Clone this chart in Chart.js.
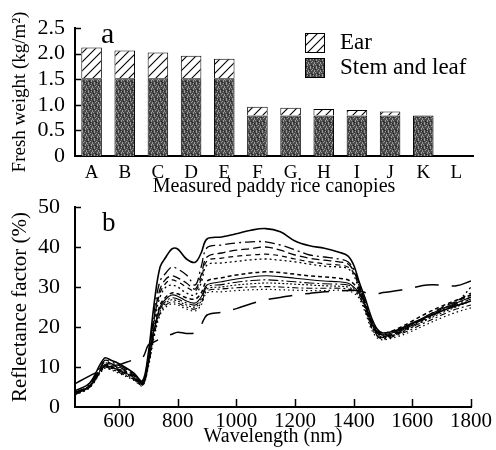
<!DOCTYPE html>
<html lang="en">
<head>
<meta charset="UTF-8">
<title>Paddy rice canopies: fresh weight and reflectance</title>
<style>
  html, body { margin: 0; padding: 0; background: #fff; }
  #wrap { position: relative; width: 496px; height: 450px; }
  canvas { position: absolute; left: 0; }
  #bars { top: 0; }
  #spectra { top: 190px; }
</style>
</head>
<body>
<div id="wrap">
  <canvas id="bars" width="496" height="202"></canvas>
  <canvas id="spectra" width="496" height="260"></canvas>
</div>

<script src="https://cdn.jsdelivr.net/npm/chart.js"></script>
<script>
// ---- panel a: fresh weight ----
const canopies = ['A', 'B', 'C', 'D', 'E', 'F', 'G', 'H', 'I', 'J', 'K', 'L'];
const stemLeaf = [1.52, 1.52, 1.52, 1.52, 1.52, 0.79, 0.79, 0.79, 0.79, 0.79, 0.79, 0];
const ear      = [0.60, 0.54, 0.50, 0.44, 0.38, 0.17, 0.15, 0.13, 0.11, 0.08, 0, 0];
const weightTicks = [0, 0.5, 1.0, 1.5, 2.0, 2.5];

// ---- panel b: reflectance spectra ----
const wavelength = [450, 500, 550, 575, 600, 650, 680, 700, 720, 740, 760, 780, 800, 830, 860, 880, 900,
  950, 1000, 1050, 1100, 1150, 1200, 1250, 1300, 1350, 1380, 1400, 1420, 1440, 1460, 1480, 1500,
  1550, 1600, 1650, 1700, 1750, 1800];
const waveTicks = [600, 800, 1000, 1200, 1400, 1600, 1800];
const reflTicks = [0, 10, 20, 30, 40, 50];

const reflA = [4.0, 6.0, 12.2, 11.6, 10.8, 8.5, 6.5, 13.5, 26, 35, 37.5, 39.5, 39.5, 37, 36.2, 38.5, 42,
  42.5, 43.3, 44.2, 44.6, 43.8, 41.5, 40.3, 39.7, 38.7, 37.8, 35.5, 31, 27, 22.5, 19.5, 18.5,
  19.3, 21, 22.5, 24, 25.3, 26.5];
const reflB = [3.6, 5.6, 11.6, 11.2, 10.4, 8.3, 6.3, 12.8, 24, 31.5, 33.5, 35, 34.5, 33, 30.5, 35, 39.8,
  40.5, 41, 41.3, 41.3, 40.5, 39.3, 38, 37.5, 37, 36.3, 34.5, 30.5, 26, 21.5, 19, 18,
  19, 20.8, 22.5, 24.2, 25.8, 27.5];
const reflC = [3.5, 5.4, 11.2, 10.8, 10, 8.1, 6.1, 12.3, 22.5, 29.5, 32, 32.8, 32.3, 31, 29.5, 33, 37.5,
  38.5, 39.2, 39.6, 40, 39.2, 38, 37.2, 36.7, 36.3, 35.8, 34, 30, 25.5, 21, 18.5, 17.6,
  18.6, 20.5, 22.8, 24.8, 26.5, 28.5];
const reflD = [3.4, 5.3, 10.9, 10.5, 9.8, 7.9, 6.0, 12, 22, 28.5, 31, 31.8, 31.3, 30, 29, 32, 36.5,
  37.2, 37.7, 38, 38.2, 37.8, 37, 36.3, 35.8, 35.5, 35, 33.5, 29.5, 25, 20.8, 18.3, 17.4,
  18.4, 20.3, 22.3, 24.3, 26.3, 28];
const reflE = [3.3, 5.2, 10.6, 10.2, 9.5, 7.7, 5.9, 11.8, 21.5, 27.5, 30, 30.5, 30, 28.5, 28, 31, 35.5,
  36, 36.4, 36.8, 37, 36.7, 36.3, 35.7, 35.2, 35, 34.6, 33, 29, 24.5, 20.5, 18, 17.2,
  18.3, 20, 22, 24, 26, 30];
const reflF = [3.4, 5.2, 10.5, 10.1, 9.4, 7.6, 5.8, 11.5, 20, 25.5, 27.5, 28.5, 28.3, 27.3, 27, 28.5, 31.5,
  32.3, 33, 33.5, 33.8, 33.6, 33.2, 32.8, 32.5, 32.2, 31.8, 30.8, 29, 26, 22, 19.2, 18.4,
  19.6, 21.5, 23.5, 25.2, 26.7, 28];
const reflG = [3.5, 5.3, 10.3, 9.9, 9.2, 7.4, 5.7, 11, 19.5, 25, 27, 28, 27.7, 26.5, 26, 27.5, 30.5,
  31.3, 32, 32.5, 32.8, 32.6, 32.2, 31.8, 31.5, 31.3, 31, 30, 28.5, 25.5, 21.5, 18.8, 18,
  19, 20.8, 22.8, 24.5, 26, 27.5];
const reflH = [3.3, 5.1, 10.1, 9.7, 9.0, 7.2, 5.6, 10.8, 19, 24.5, 26.5, 27.3, 27, 26, 25.5, 27, 30,
  30.6, 31.2, 31.6, 31.8, 31.6, 31.3, 31, 30.8, 30.7, 30.5, 29.7, 28.2, 25, 21, 18.5, 17.7,
  18.7, 20.5, 22.3, 24, 25.5, 27];
const reflI = [3.2, 5.0, 10.0, 9.6, 8.8, 7.0, 5.5, 10.5, 18.5, 24, 26, 26.8, 26.5, 25.5, 25, 26.5, 29.5,
  30, 30.5, 30.8, 31, 30.9, 30.7, 30.5, 30.3, 30.2, 30, 29.3, 27.8, 24.5, 20.5, 18, 17.3,
  18.3, 20, 21.8, 23.5, 25, 26.5];
const reflJ = [3.1, 4.9, 9.8, 9.4, 8.6, 6.9, 5.4, 10.3, 18, 23.5, 25.5, 26.3, 26, 25, 24.5, 26, 29,
  29.5, 29.8, 30, 30.1, 30, 29.8, 29.7, 29.7, 29.7, 29.5, 29, 27.5, 24, 20, 17.7, 17,
  18, 19.5, 21.3, 23, 24.5, 25.5];
const reflK = [3.0, 4.8, 9.6, 9.2, 8.4, 6.7, 5.3, 10, 17.5, 23, 25, 25.8, 25.5, 24.5, 24, 25.5, 28.5,
  28.8, 29.1, 29.3, 29.4, 29.3, 29.2, 29.1, 29.1, 29.2, 29, 28.5, 27, 23.5, 19.5, 17.3, 16.8,
  17.6, 19, 20.7, 22.3, 23.7, 24.8];
const reflL = [5.8, 7.8, 9.5, 10.2, 10.6, 11.8, 12.3, 15.5, 16.3, 17, 17.6, 18.2, 18.7, 18.4, 18.6, 20.5, 23,
  23.7, 24.6, 25.8, 26.8, 27.4, 28, 28.4, 28.8, 29, 29.1, 29.2, 29, 28.6, 28.2, 28.3, 28.6,
  29.1, 29.8, 30.5, 30.5, 30.3, 31.5];

const spectra = [reflA, reflB, reflC, reflD, reflE, reflF, reflG, reflH, reflI, reflJ, reflK, reflL];

// line styles per canopy (dash pattern, width)
const lineStyles = [
  [[], 1.6], [[10, 4, 2, 4], 1.3], [[8, 4], 1.3], [[5, 4], 1.2], [[2, 3], 1.3], [[4, 3], 1.5],
  [[], 1.1], [[10, 3, 2, 3], 1.1], [[2, 2], 1.1], [[6, 3, 2, 3], 1.1], [[1.5, 3], 1.2], [[24, 13], 1.5]
];

const serif = "'Liberation Serif', 'Times New Roman', serif";
Chart.defaults.font.family = serif;
Chart.defaults.color = '#000';
Chart.defaults.devicePixelRatio = 1;

// fill patterns
function makeStemPattern(ctx) {
  const c = document.createElement('canvas');
  c.width = 6; c.height = 8;
  const g = c.getContext('2d');
  g.fillStyle = '#4a4a4a';
  g.fillRect(0, 0, 6, 8);
  g.fillStyle = '#9a9a9a';
  [[1, 0], [1, 1], [1, 3], [4, 2], [4, 3], [4, 4], [2, 6], [2, 7], [5, 6], [0, 5], [3, 0]].forEach(([x, y]) => g.fillRect(x, y, 1, 1));
  g.fillStyle = '#222';
  [[0, 2], [3, 5], [5, 1], [2, 3]].forEach(([x, y]) => g.fillRect(x, y, 1, 1));
  return ctx.createPattern(c, 'repeat');
}
function makeEarPattern(ctx) {
  const c = document.createElement('canvas');
  c.width = 9; c.height = 9;
  const g = c.getContext('2d');
  g.fillStyle = '#fff';
  g.fillRect(0, 0, 9, 9);
  g.strokeStyle = '#000';
  g.lineWidth = 1.1;
  g.beginPath();
  g.moveTo(0, 9); g.lineTo(9, 0);
  g.moveTo(-1, 1); g.lineTo(1, -1);
  g.moveTo(8, 10); g.lineTo(10, 8);
  g.stroke();
  return ctx.createPattern(c, 'repeat');
}

// ticks drawn inward from the axes
const inwardTicks = {
  id: 'inwardTicks',
  afterDraw(chart, args, opts) {
    const { ctx, chartArea: a, scales } = chart;
    ctx.save();
    ctx.strokeStyle = '#000';
    ctx.lineWidth = 1.5;
    if (opts.y) {
      scales.y.ticks.forEach(t => {
        if (t.value === 0) return;
        const p = Math.round(scales.y.getPixelForValue(t.value)) + 0.5;
        ctx.beginPath(); ctx.moveTo(a.left, p); ctx.lineTo(a.left + opts.y, p); ctx.stroke();
      });
    }
    if (opts.x) {
      scales.x.ticks.forEach(t => {
        const p = Math.round(scales.x.getPixelForValue(t.value)) + 0.5;
        ctx.beginPath(); ctx.moveTo(p, a.bottom); ctx.lineTo(p, a.bottom - opts.x); ctx.stroke();
      });
    }
    ctx.restore();
  }
};

// panel letter and the legend of panel a
const panelDecor = {
  id: 'panelDecor',
  afterDraw(chart, args, opts) {
    const { ctx, chartArea: a } = chart;
    ctx.save();
    ctx.fillStyle = '#000';
    ctx.textBaseline = 'alphabetic';
    ctx.font = opts.letterSize + 'px ' + serif;
    ctx.fillText(opts.letter, a.left + opts.letterDx, a.top + opts.letterDy);
    if (opts.legend) {
      const ds = chart.data.datasets;
      const items = [ds[1], ds[0]];
      ctx.font = '23px ' + serif;
      items.forEach((d, i) => {
        const x = 305, y = 33 + i * 25;
        ctx.fillStyle = d.backgroundColor;
        ctx.fillRect(x, y, 19, 19);
        ctx.strokeStyle = '#000';
        ctx.lineWidth = 1;
        ctx.strokeRect(x + 0.5, y + 0.5, 19, 19);
        ctx.fillStyle = '#000';
        ctx.textBaseline = 'middle';
        ctx.fillText(d.label, x + 35, y + 10);
      });
    }
    ctx.restore();
  }
};

// keep the plot area where the layout padding puts it
function fixY(s) { s.width = 75; s.paddingTop = 0; s.paddingBottom = 0; }

// ---------- chart a ----------
const barCtx = document.getElementById('bars').getContext('2d');
new Chart(barCtx, {
  type: 'bar',
  data: {
    labels: canopies,
    datasets: [
      { label: 'Stem and leaf', data: stemLeaf, backgroundColor: makeStemPattern(barCtx),
        borderColor: '#000', borderWidth: 1, barPercentage: 0.62, categoryPercentage: 1 },
      { label: 'Ear', data: ear, backgroundColor: makeEarPattern(barCtx),
        borderColor: '#000', borderWidth: 1, barPercentage: 0.62, categoryPercentage: 1 }
    ]
  },
  options: {
    responsive: false,
    animation: false,
    layout: { padding: { top: 28, right: 23, left: 0, bottom: 0 } },
    plugins: {
      legend: { display: false },
      tooltip: { enabled: false },
      inwardTicks: { y: 6 },
      panelDecor: { letter: 'a', letterSize: 30, letterDx: 26, letterDy: 15, legend: true }
    },
    scales: {
      x: {
        stacked: true,
        grid: { display: false, drawTicks: false },
        border: { color: '#000', width: 2 },
        ticks: { font: { size: 19 }, padding: 6, autoSkip: false, maxRotation: 0 },
        title: { display: true, text: 'Measured paddy rice canopies', font: { size: 20 }, padding: { top: 0, bottom: 3 } },
        afterFit(s) { s.height = 46; }
      },
      y: {
        stacked: true,
        min: 0, max: 2.5,
        afterBuildTicks(s) { s.ticks = weightTicks.map(v => ({ value: v })); },
        grid: { display: false, drawTicks: false },
        border: { color: '#000', width: 2 },
        ticks: { font: { size: 22 }, padding: 10, autoSkip: false, callback: v => v === 0 ? '0' : v.toFixed(1) },
        title: { display: true, text: 'Fresh weight (kg/m²)', font: { size: 19 }, padding: { top: 9 } },
        afterFit: fixY
      }
    }
  },
  plugins: [inwardTicks, panelDecor]
});

// ---------- chart b ----------
new Chart(document.getElementById('spectra'), {
  type: 'line',
  data: {
    datasets: spectra.map((vals, i) => ({
      label: canopies[i],
      data: vals.map((v, j) => ({ x: wavelength[j], y: v })),
      borderColor: '#000',
      borderWidth: lineStyles[i][1],
      borderDash: lineStyles[i][0],
      pointRadius: 0,
      fill: false,
      tension: 0.35
    }))
  },
  options: {
    responsive: false,
    animation: false,
    layout: { padding: { top: 17, right: 25, left: 0, bottom: 0 } },
    plugins: {
      legend: { display: false },
      tooltip: { enabled: false },
      inwardTicks: { x: 8, y: 6 },
      panelDecor: { letter: 'b', letterSize: 27, letterDx: 27, letterDy: 24, legend: false }
    },
    scales: {
      x: {
        type: 'linear',
        min: 450, max: 1800,
        afterBuildTicks(s) { s.ticks = waveTicks.map(v => ({ value: v })); },
        grid: { display: false, drawTicks: false },
        border: { color: '#000', width: 2 },
        ticks: { font: { size: 21 }, padding: 2, autoSkip: false, maxRotation: 0, callback: v => String(v) },
        title: { display: true, text: 'Wavelength (nm)', font: { size: 20 }, padding: { top: 0, bottom: 1 } },
        afterFit(s) { s.height = 43; }
      },
      y: {
        min: 0, max: 50,
        afterBuildTicks(s) { s.ticks = reflTicks.map(v => ({ value: v })); },
        ticks: { font: { size: 22 }, padding: 15, autoSkip: false, callback: v => String(v) },
        grid: { display: false, drawTicks: false },
        border: { color: '#000', width: 2 },
        title: { display: true, text: 'Reflectance factor (%)', font: { size: 21 }, padding: { top: 8 } },
        afterFit: fixY
      }
    }
  },
  plugins: [inwardTicks, panelDecor]
});
</script>
</body>
</html>
